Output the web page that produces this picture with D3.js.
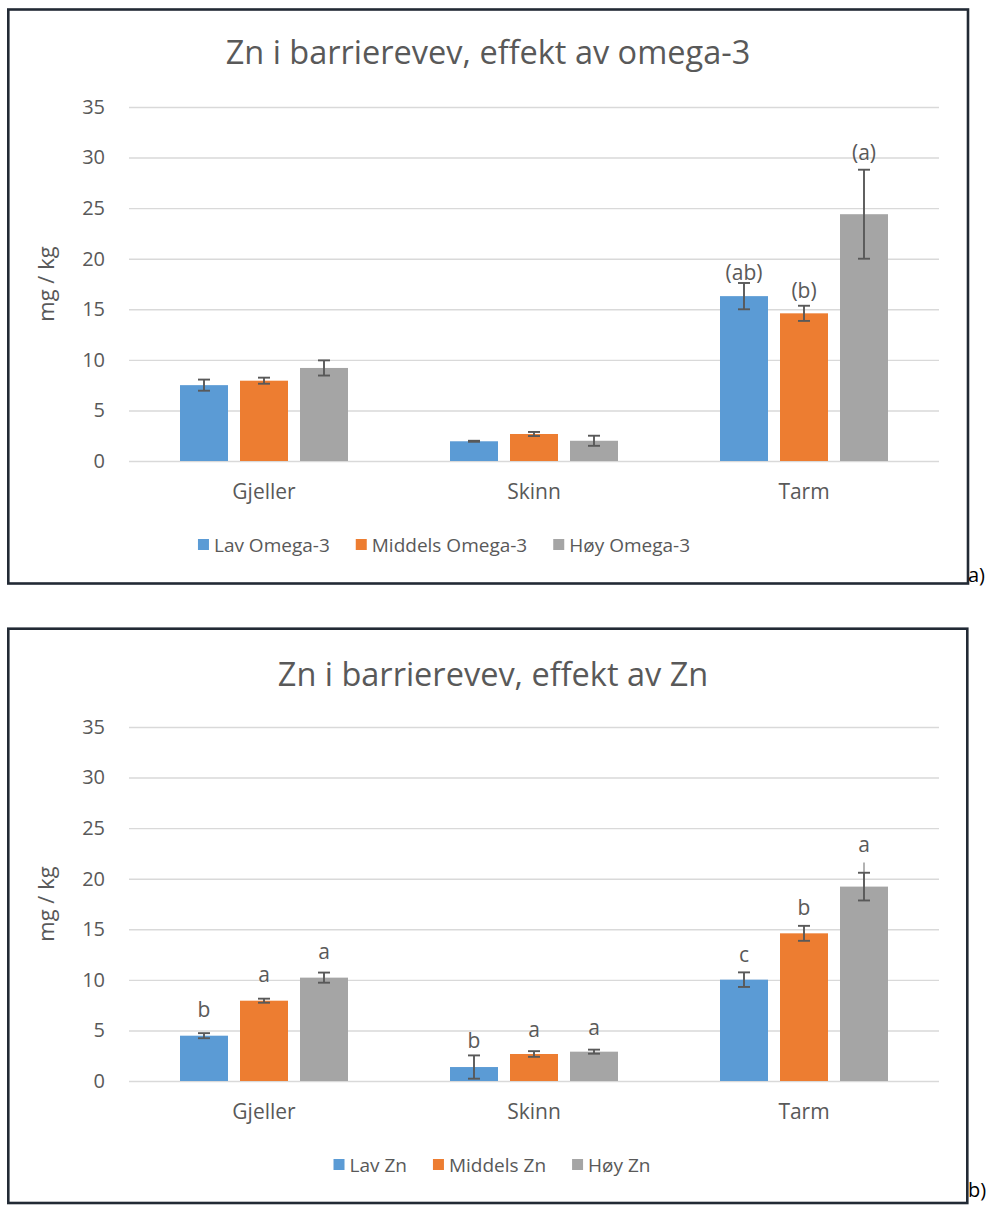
<!DOCTYPE html>
<html><head><meta charset="utf-8">
<script src="https://cdn.jsdelivr.net/npm/d3@7"></script>
<style>body{margin:0;background:#fff} svg{display:block}</style>
</head><body>
<svg id="c" width="991" height="1205"></svg>
<script>
// ---------- DATA ----------
const categories = ["Gjeller", "Skinn", "Tarm"];
const yTicks = [0, 5, 10, 15, 20, 25, 30, 35];

// Chart a) effekt av omega-3
const titleA = "Zn i barrierevev, effekt av omega-3";
const seriesA = ["Lav Omega-3", "Middels Omega-3", "Høy Omega-3"];
const aLav = [7.5, 1.95, 16.3];
const aLavErr = [0.55, 0.05, 1.3];
const aMid = [7.94, 2.67, 14.6];
const aMidErr = [0.3, 0.2, 0.75];
const aHoy = [9.2, 2.0, 24.4];
const aHoyErr = [0.75, 0.5, 4.4];
const aLavLab = ["", "", "(ab)"];
const aMidLab = ["", "", "(b)"];
const aHoyLab = ["", "", "(a)"];
const aLavLabAt = [null, null, 17.9];
const aMidLabAt = [null, null, 16.1];
const aHoyLabAt = [null, null, 29.8];

// Chart b) effekt av Zn
const titleB = "Zn i barrierevev, effekt av Zn";
const seriesB = ["Lav Zn", "Middels Zn", "Høy Zn"];
const bLav = [4.48, 1.38, 10.02];
const bLavErr = [0.25, 1.15, 0.72];
const bMid = [7.94, 2.67, 14.6];
const bMidErr = [0.2, 0.28, 0.74];
const bHoy = [10.22, 2.9, 19.22];
const bHoyErr = [0.5, 0.2, 1.37];
const bLavLab = ["b", "b", "c"];
const bMidLab = ["a", "a", "b"];
const bHoyLab = ["a", "a", "a"];
const bLavLabAt = [6.33, 3.26, 11.8];
const bMidLabAt = [9.79, 4.38, 16.4];
const bHoyLabAt = [12.06, 4.55, 22.6];
const bHoyWhiskerTop = [null, null, 21.6];

const colors = ["#5B9BD5", "#ED7D31", "#A5A5A5"];

// ---------- DRAW ----------
const svg = d3.select("#c");
const FONT = "'Open Sans', 'Noto Sans', sans-serif";
const TXT = "#595959";

function drawChart(cfg) {
  const off = cfg.offset;
  const g = svg.append("g").attr("transform", `translate(0,${off})`);
  // frame
  g.append("rect").attr("x", cfg.frame[0]).attr("y", cfg.frame[1])
    .attr("width", cfg.frame[2] - cfg.frame[0]).attr("height", cfg.frame[3] - cfg.frame[1])
    .attr("fill", "#fff").attr("stroke", "#222A35").attr("stroke-width", 2.6);

  const x = d3.scaleBand().domain(categories).range([129, 939]);
  const x1 = d3.scaleBand().domain(cfg.series).range([0, 168]).paddingInner(0.2).paddingOuter(0);
  const gOff = (x.bandwidth() - 168) / 2;
  const y = d3.scaleLinear().domain([0, 35]).range([461, 107]);

  // grid + y tick labels
  const ya = g.append("g").attr("transform", "translate(129,0)")
    .call(d3.axisLeft(y).tickValues(yTicks).tickSize(-810).tickPadding(24));
  ya.select(".domain").remove();
  ya.selectAll(".tick line").attr("stroke", "#D9D9D9").attr("stroke-width", 1.4);
  ya.selectAll(".tick text").attr("fill", TXT).style("font-family", FONT).style("font-size", "20px");

  // x category labels
  const xa = g.append("g").attr("transform", "translate(0,461)")
    .call(d3.axisBottom(x).tickSize(0).tickPadding(0));
  xa.select(".domain").remove();
  xa.selectAll(".tick text").attr("fill", TXT).attr("y", 38).attr("dy", 0)
    .style("font-family", FONT).style("font-size", "21px");

  // bars
  const rows = [];
  cfg.values.forEach((vals, si) => {
    vals.forEach((v, ci) => {
      rows.push({ s: cfg.series[si], si, c: categories[ci], v,
        e: cfg.errs[si][ci], lab: cfg.labs[si][ci], labAt: cfg.labAt[si][ci],
        wt: cfg.whisker ? cfg.whisker[si][ci] : null });
    });
  });
  const bx = d => x(d.c) + gOff + x1(d.s);
  g.append("g").selectAll("rect").data(rows).join("rect")
    .attr("x", bx).attr("width", x1.bandwidth())
    .attr("y", d => y(d.v)).attr("height", d => y(0) - y(d.v))
    .attr("fill", d => colors[d.si]);

  // extra whisker
  const wRows = rows.filter(d => d.wt != null);
  g.append("g").selectAll("line").data(wRows).join("line")
    .attr("x1", d => bx(d) + x1.bandwidth() / 2).attr("x2", d => bx(d) + x1.bandwidth() / 2)
    .attr("y1", d => y(d.wt)).attr("y2", d => y(d.v + d.e))
    .attr("stroke", "#A0A0A0").attr("stroke-width", 1.6);

  // error bars
  const eg = g.append("g").attr("stroke", "#595959").attr("stroke-width", 1.9);
  rows.forEach(d => {
    const cx = bx(d) + x1.bandwidth() / 2;
    eg.append("line").attr("x1", cx).attr("x2", cx).attr("y1", y(d.v + d.e)).attr("y2", y(d.v - d.e));
    eg.append("line").attr("x1", cx - 6).attr("x2", cx + 6).attr("y1", y(d.v + d.e)).attr("y2", y(d.v + d.e));
    eg.append("line").attr("x1", cx - 6).attr("x2", cx + 6).attr("y1", y(d.v - d.e)).attr("y2", y(d.v - d.e));
  });

  // significance labels
  g.append("g").selectAll("text").data(rows.filter(d => d.lab)).join("text")
    .attr("x", d => bx(d) + x1.bandwidth() / 2).attr("y", d => y(d.labAt))
    .attr("text-anchor", "middle").attr("fill", TXT)
    .style("font-family", FONT).style("font-size", "21px").text(d => d.lab);

  // title
  g.append("text").attr("x", cfg.titleX).attr("y", cfg.titleY).attr("text-anchor", "middle")
    .attr("fill", TXT).style("font-family", FONT).style("font-size", "32.5px").text(cfg.title);

  // y axis title
  g.append("text").attr("transform", "translate(54,284) rotate(-90)").attr("text-anchor", "middle")
    .attr("fill", TXT).style("font-family", FONT).style("font-size", "22px").text("mg / kg");

  // legend
  const lg = g.append("g");
  let cx = 0;
  cfg.series.forEach((s, i) => {
    const it = lg.append("g").attr("transform", `translate(${cx},0)`);
    it.append("rect").attr("x", 0).attr("y", 539).attr("width", 11).attr("height", 11).attr("fill", colors[i]);
    const t = it.append("text").attr("x", 16).attr("y", 552).attr("fill", TXT)
      .style("font-family", FONT).style("font-size", "19px").text(s);
    cx += 16 + t.node().getComputedTextLength() + 26;
  });
  const lw = cx - 26;
  lg.attr("transform", `translate(${cfg.legendCenter - lw / 2},0)`);

  // panel label
  svg.append("text").attr("x", 968).attr("y", off + cfg.panelY).attr("fill", "#000")
    .style("font-family", FONT).style("font-size", "20px").text(cfg.panel);
}

drawChart({
  offset: 0, frame: [8.3, 9.5, 968, 583.5], series: seriesA,
  values: [aLav, aMid, aHoy], errs: [aLavErr, aMidErr, aHoyErr],
  labs: [aLavLab, aMidLab, aHoyLab], labAt: [aLavLabAt, aMidLabAt, aHoyLabAt],
  title: titleA, titleX: 488, titleY: 64, legendCenter: 444, panel: "a)", panelY: 582
});
drawChart({
  offset: 620, frame: [8.3, 8.7, 967.3, 583], series: seriesB,
  values: [bLav, bMid, bHoy], errs: [bLavErr, bMidErr, bHoyErr],
  labs: [bLavLab, bMidLab, bHoyLab], labAt: [bLavLabAt, bMidLabAt, bHoyLabAt],
  whisker: [[null, null, null], [null, null, null], bHoyWhiskerTop],
  title: titleB, titleX: 493, titleY: 66, legendCenter: 492, panel: "b)", panelY: 577
});
</script>
</body></html>
